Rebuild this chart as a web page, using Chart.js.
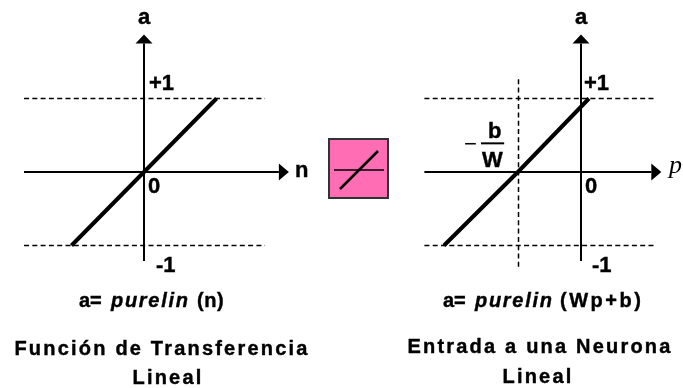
<!DOCTYPE html>
<html>
<head>
<meta charset="utf-8">
<script src="https://cdn.jsdelivr.net/npm/chart.js@4/dist/chart.umd.js"></script>
<style>
  html, body { margin: 0; padding: 0; background: #fff; }
  canvas { position: absolute; display: block; }
  #leftChart { left: 0; top: 0; }
  #rightChart { left: 400px; top: 0; }
  #iconChart { left: 328px; top: 138px; }
</style>
</head>
<body>
<canvas id="leftChart" width="320" height="388"></canvas>
<canvas id="iconChart" width="61" height="61"></canvas>
<canvas id="rightChart" width="283" height="388"></canvas>
<script>
// left panel: a = purelin(n)
const leftRampN = [-1, 0, 1];
const leftRampA = [-1, 0, 1];
const leftLimitN = [-1.655, 1.67];
const leftAxisN = [-1.655, 1.86];
const leftAxisA = [-1.21, 1.75];

// right panel: a = purelin(Wp+b)
const rightRampP = [-1.89, -0.87, 0.11];
const rightRampA = [-1, 0, 1];
const rightLimitP = [-2.16, 1.03];
const rightAxisP = [-2.16, 0.97];
const rightAxisA = [-1.21, 1.75];
const rightOffsetP = -0.862;
const rightOffsetA = [-1.29, 1.28];
const rightFractionP = [-1.38, -1.06];
const rightFractionA = 0.39;

// middle icon
const iconFlatX = [-1, 1];
const iconFlatY = [0, 0];
const iconRampX = [-0.76, 0.76];
const iconRampY = [-0.76, 0.76];

const limitLevels = [1, -1];

const toPoints = (xs, ys) => xs.map((x, i) => ({ x, y: ys[i] }));
const BLACK = "#000";
const SANS = '"Liberation Sans", Arial, sans-serif';

function lineSet(data, width, dash) {
  return {
    data,
    borderColor: BLACK,
    borderWidth: width,
    borderDash: dash || [],
    pointRadius: 0,
    showLine: true,
    fill: false,
    tension: 0,
    borderCapStyle: "butt",
  };
}

// arrow heads and text are placed from the scales
const panelDecor = {
  id: "panelDecor",
  afterDraw(chart, args, opts) {
    const { ctx, scales: { x, y } } = chart;
    const px = (v) => x.getPixelForValue(v);
    const py = (v) => y.getPixelForValue(v);
    ctx.save();
    ctx.fillStyle = BLACK;
    // x arrow
    ctx.beginPath();
    ctx.moveTo(px(opts.arrowX) + 10, py(0));
    ctx.lineTo(px(opts.arrowX), py(0) - 8.5);
    ctx.lineTo(px(opts.arrowX), py(0) + 8.5);
    ctx.closePath();
    ctx.fill();
    // y arrow
    ctx.beginPath();
    ctx.moveTo(px(0), py(opts.arrowY) - 9);
    ctx.lineTo(px(0) - 8.5, py(opts.arrowY));
    ctx.lineTo(px(0) + 8.5, py(opts.arrowY));
    ctx.closePath();
    ctx.fill();
    ctx.textBaseline = "alphabetic";
    ctx.strokeStyle = BLACK;
    ctx.lineWidth = 0.4;
    opts.texts.forEach((t) => {
      ctx.font = t.font;
      ctx.letterSpacing = t.spacing || "0px";
      ctx.textAlign = t.align || "left";
      ctx.fillText(t.text, t.x, t.y);
      if (!t.thin) ctx.strokeText(t.text, t.x, t.y);
    });
    ctx.restore();
  },
};

function makePanel(id, originX, datasets, decor) {
  const canvas = document.getElementById(id);
  return new Chart(canvas.getContext("2d"), {
    type: "scatter",
    data: { datasets },
    options: {
      responsive: false,
      animation: false,
      layout: { padding: 0 },
      scales: {
        x: { type: "linear", display: false, min: -originX / 72.5, max: (canvas.width - originX) / 72.5 },
        y: { type: "linear", display: false, min: (172 - canvas.height) / 73.5, max: 172 / 73.5 },
      },
      plugins: { legend: { display: false }, tooltip: { enabled: false }, panelDecor: decor },
    },
    plugins: [panelDecor],
  });
}

const DASH = [5, 3.3];
const formula = `bold 20px ${SANS}`;
const formulaItalic = `italic bold 20px ${SANS}`;
const tickFont = `bold 22px ${SANS}`;
const titleFont = `bold 20px ${SANS}`;

makePanel("leftChart", 144, [
  lineSet(toPoints(leftRampN, leftRampA), 4),
  lineSet(toPoints(leftLimitN, limitLevels.map(() => limitLevels[0])), 1.5, DASH),
  lineSet(toPoints(leftLimitN, limitLevels.map(() => limitLevels[1])), 1.5, DASH),
  lineSet(toPoints(leftAxisN, [0, 0]), 2),
  lineSet(toPoints([0, 0], leftAxisA), 2),
], {
  arrowX: leftAxisN[1],
  arrowY: leftAxisA[1],
  texts: [
    { text: "a", x: 144, y: 24, font: tickFont, align: "center" },
    { text: "+1", x: 149, y: 90, font: tickFont },
    { text: "0", x: 148, y: 193, font: tickFont },
    { text: "-1", x: 156, y: 272, font: tickFont },
    { text: "n", x: 295, y: 177, font: tickFont },
    { text: "a=", x: 79, y: 307, font: formula },
    { text: "purelin", x: 111, y: 307, font: formulaItalic, spacing: "1.7px" },
    { text: "(n)", x: 197, y: 307, font: formula, spacing: "0.5px" },
    { text: "Función de Transferencia", x: 162, y: 355, font: titleFont, align: "center", spacing: "2.2px" },
    { text: "Lineal", x: 168, y: 384, font: titleFont, align: "center", spacing: "2.2px" },
  ],
});

makePanel("rightChart", 181, [
  lineSet(toPoints(rightRampP, rightRampA), 4),
  lineSet(toPoints(rightLimitP, limitLevels.map(() => limitLevels[0])), 1.5, DASH),
  lineSet(toPoints(rightLimitP, limitLevels.map(() => limitLevels[1])), 1.5, DASH),
  lineSet(toPoints([rightOffsetP, rightOffsetP], rightOffsetA), 1.5, DASH),
  lineSet(toPoints(rightFractionP, [rightFractionA, rightFractionA]), 2),
  lineSet(toPoints(rightAxisP, [0, 0]), 2),
  lineSet(toPoints([0, 0], rightAxisA), 2),
], {
  arrowX: rightAxisP[1],
  arrowY: rightAxisA[1],
  texts: [
    { text: "a", x: 181, y: 24, font: tickFont, align: "center" },
    { text: "+1", x: 184, y: 90, font: tickFont },
    { text: "0", x: 185, y: 193, font: tickFont },
    { text: "-1", x: 192, y: 272, font: tickFont },
    { text: "p", x: 269, y: 173, font: `italic 26px "Liberation Serif", serif`, thin: true },
    { text: "−", x: 64, y: 151, font: `22px ${SANS}`, thin: true },
    { text: "b", x: 88, y: 138, font: tickFont },
    { text: "W", x: 82, y: 167, font: tickFont },
    { text: "a=", x: 43, y: 307, font: formula },
    { text: "purelin", x: 75, y: 307, font: formulaItalic, spacing: "1.7px" },
    { text: "(Wp+b)", x: 160, y: 307, font: formula, spacing: "2.5px" },
    { text: "Entrada a una Neurona", x: 140, y: 353, font: titleFont, align: "center", spacing: "2.2px" },
    { text: "Lineal", x: 138, y: 383, font: titleFont, align: "center", spacing: "2.2px" },
  ],
});

// pink box in the middle
const iconCanvas = document.getElementById("iconChart");
new Chart(iconCanvas.getContext("2d"), {
  type: "scatter",
  data: { datasets: [lineSet(toPoints(iconFlatX, iconFlatY), 1.5), lineSet(toPoints(iconRampX, iconRampY), 2.5)] },
  options: {
    responsive: false,
    animation: false,
    layout: { padding: 0 },
    scales: {
      x: { type: "linear", display: false, min: -1.24, max: 1.2 },
      y: { type: "linear", display: false, min: -1.16, max: 1.28 },
    },
    plugins: { legend: { display: false }, tooltip: { enabled: false } },
  },
  plugins: [{
    id: "box",
    beforeDraw(chart) {
      const { ctx, width, height } = chart;
      ctx.save();
      ctx.fillStyle = "#ff6eb4";
      ctx.fillRect(0, 0, width, height);
      ctx.strokeStyle = "#333";
      ctx.lineWidth = 2;
      ctx.strokeRect(1, 1, width - 2, height - 2);
      ctx.restore();
    },
  }],
});
</script>
</body>
</html>
